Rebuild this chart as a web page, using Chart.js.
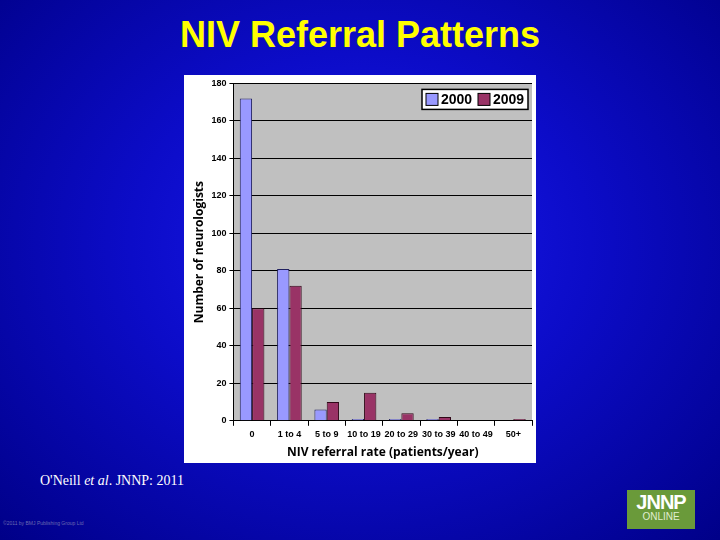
<!DOCTYPE html>
<html>
<head>
<meta charset="utf-8">
<script src="https://cdn.jsdelivr.net/npm/chart.js@4"></script>
<style>
  html, body { margin: 0; padding: 0; }
  body {
    width: 720px; height: 540px; overflow: hidden; position: relative;
    background: radial-gradient(ellipse at 50% 45%, #1a1af0 0%, #0c0cc8 45%, #000088 100%);
    font-family: "Liberation Sans", Arial, sans-serif;
  }
  #title { position: absolute; top: 14px; left: 0; width: 720px; text-align: center;
    color: #ffff00; font-weight: bold; font-size: 36px; }
  #panel { position: absolute; left: 184px; top: 75px; width: 352px; height: 388px; background: #fff; }
  #cite { position: absolute; left: 40px; top: 473px; color: #fff;
    font-family: "Liberation Serif", "Times New Roman", serif; font-size: 14px; }
  #copy { position: absolute; left: 3px; top: 520px; color: #6a6ab0; font-size: 5px; }
  #logo { position: absolute; left: 627px; top: 490px; width: 68px; height: 39px; background: #6a9a3a;
    color: #fff; text-align: center; line-height: 1; }
  #logo .a { font-size: 20px; font-weight: bold; padding-top: 2px; letter-spacing: -1px; }
  #logo .b { font-size: 10px; color: #e0eed0; }
</style>
</head>
<body>
<div id="title">NIV Referral Patterns</div>
<div id="panel"><canvas id="c" width="352" height="388"></canvas></div>
<div id="cite">O'Neill <i>et al</i>. JNNP: 2011</div>
<div id="copy">©2011 by BMJ Publishing Group Ltd</div>
<div id="logo"><div class="a">JNNP</div><div class="b">ONLINE</div></div>
<script>
const categories = ['0', '1 to 4', '5 to 9', '10 to 19', '20 to 29', '30 to 39', '40 to 49', '50+'];
const values2000 = [172, 81, 6, 1, 1, 1, 0, 0];
const values2009 = [60, 72, 10, 15, 4, 2, 0, 1];
const yTicks = [0, 20, 40, 60, 80, 100, 120, 140, 160, 180];

const plotBg = {
  id: 'plotBg',
  beforeDraw(chart) {
    const { ctx, chartArea: a } = chart;
    ctx.save();
    ctx.fillStyle = '#c0c0c0';
    ctx.fillRect(a.left, a.top, a.right - a.left, a.bottom - a.top);
    ctx.restore();
  }
};

const boxLegend = {
  id: 'boxLegend',
  afterDraw(chart) {
    const { ctx, chartArea: a } = chart;
    const w = 106, h = 20, x = a.right - w - 4, y = a.top + 6;
    ctx.save();
    ctx.fillStyle = '#fff';
    ctx.fillRect(x, y, w, h);
    ctx.strokeStyle = '#000';
    ctx.lineWidth = 1.5;
    ctx.strokeRect(x, y, w, h);
    ctx.font = 'bold 14px "Liberation Sans", Arial';
    ctx.textBaseline = 'middle';
    let cx = x + 4;
    chart.data.datasets.forEach(ds => {
      ctx.fillStyle = ds.backgroundColor;
      ctx.fillRect(cx, y + 4, 12, 12);
      ctx.lineWidth = 1;
      ctx.strokeRect(cx, y + 4, 12, 12);
      ctx.fillStyle = '#000';
      ctx.fillText(ds.label, cx + 15, y + h / 2 + 1);
      cx += 52;
    });
    ctx.restore();
  }
};

new Chart(document.getElementById('c'), {
  type: 'bar',
  data: {
    labels: categories,
    datasets: [
      { label: '2000', data: values2000, backgroundColor: '#9999ff', borderColor: '#202060', borderWidth: 1 },
      { label: '2009', data: values2009, backgroundColor: '#993366', borderColor: '#300818', borderWidth: 1 }
    ]
  },
  options: {
    responsive: false,
    animation: false,
    layout: { padding: { top: 2, right: 4, bottom: 3, left: 6 } },
    plugins: { legend: { display: false }, tooltip: { enabled: false } },
    datasets: { bar: { categoryPercentage: 0.66, barPercentage: 1 } },
    scales: {
      x: {
        grid: { display: true, drawOnChartArea: false, color: '#000', tickLength: 5, offset: true },
        border: { color: '#000' },
        ticks: { color: '#000', padding: 3, font: { size: 9, weight: 'bold', family: '"Liberation Sans", Arial' }, maxRotation: 0, autoSkip: false },
        title: { display: true, text: 'NIV referral rate (patients/year)', color: '#000',
          font: { size: 12, weight: 'bold', family: '"Open Sans", Arial' }, padding: { top: 3, bottom: 0 } }
      },
      y: {
        min: 0, max: 180,
        afterBuildTicks(axis) { axis.ticks = yTicks.map(v => ({ value: v })); },
        grid: { color: '#000', tickLength: 4 },
        border: { color: '#000' },
        ticks: { color: '#000', font: { size: 9, weight: 'bold', family: '"Liberation Sans", Arial' } },
        title: { display: true, text: 'Number of neurologists', color: '#000',
          font: { size: 12, weight: 'bold', family: '"Open Sans", Arial' }, padding: 2 }
      }
    }
  },
  plugins: [plotBg, boxLegend]
});
</script>
</body>
</html>
